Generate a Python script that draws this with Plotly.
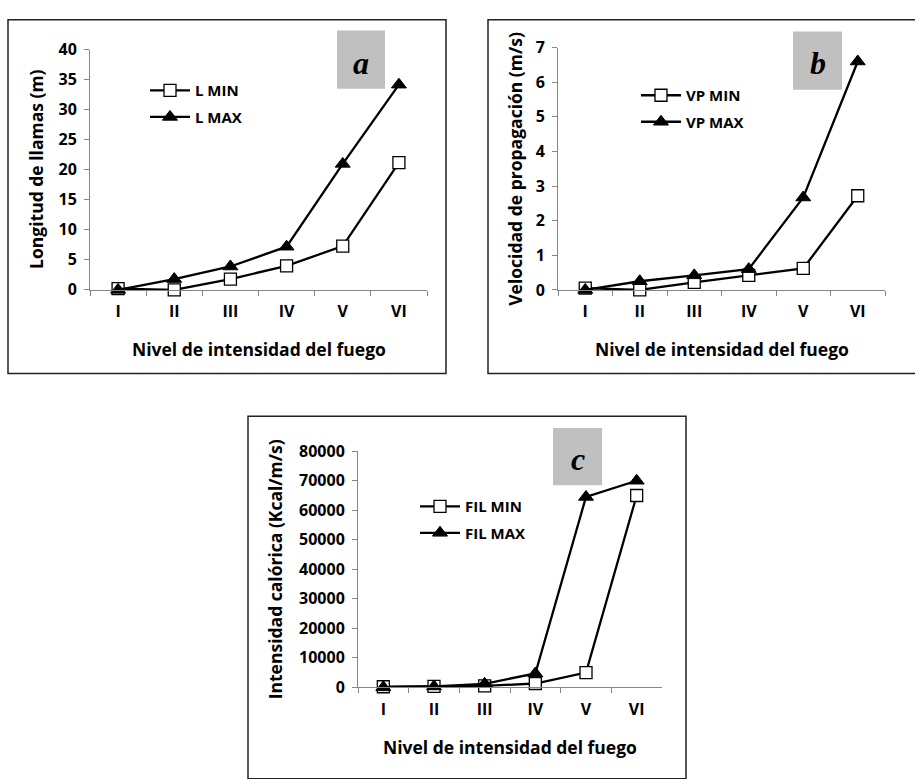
import plotly.graph_objects as go

# Fire intensity levels
niveles = ["I", "II", "III", "IV", "V", "VI"]

# (a) flame length, m
l_min = [0.2, 0.0, 1.8, 4.0, 7.3, 21.2]
l_max = [0.0, 1.8, 3.9, 7.2, 21.0, 34.2]

# (b) spread rate, m/s
vp_min = [0.05, 0.0, 0.22, 0.42, 0.62, 2.72]
vp_max = [0.0, 0.25, 0.42, 0.6, 2.67, 6.6]

# (c) fireline intensity, kcal/m/s
fil_min = [200, 300, 500, 1300, 5000, 65000]
fil_max = [0, 300, 1200, 4700, 64500, 70000]

W, H = 915, 779
FONT = "Open Sans"
WEIGHT = 700
AXIS_GREY = "#868686"
TICK_SIZE = 16
TITLE_SIZE = 17.5
LEGEND_SIZE = 15


def fx(px):
    return px / W


def fy(py):
    return 1 - py / H


panels = [
    dict(ax="", box=(90, 427, 40, 287), yr=[0, 40], dt=5,
         ytitle="Longitud de llamas (m)", ytx=36,
         series=[("L MIN", l_min), ("L MAX", l_max)],
         leg=(145, 65), tag=(337, 385, 20, 80), letter="a",
         frame=(8, 446, 9, 373)),
    dict(ax="2", box=(558, 885, 37.7, 287), yr=[0, 7], dt=1,
         ytitle="Velocidad de propagación (m/s)", ytx=515,
         series=[("VP MIN", vp_min), ("VP MAX", vp_max)],
         leg=(636, 70), tag=(793, 842, 21, 81), letter="b",
         frame=(488, 916, 9, 373)),
    dict(ax="3", box=(358, 662, 453, 696), yr=[0, 80000], dt=10000,
         ytitle="Intensidad calórica (Kcal/m/s)", ytx=275,
         series=[("FIL MIN", fil_min), ("FIL MAX", fil_max)],
         leg=(415, 493), tag=(553, 602, 429, 488), letter="c",
         frame=(248, 686, 417, 790)),
]

fig = go.Figure()
shapes, annotations = [], []
layout = {}

for i, p in enumerate(panels):
    x0, x1, yt, yb = p["box"]
    xa, ya = "xaxis" + p["ax"], "yaxis" + p["ax"]
    legname = "legend" if i == 0 else "legend" + str(i + 1)

    for j, (name, vals) in enumerate(p["series"]):
        if j == 0:
            marker = dict(symbol="square", size=12, color="white",
                          line=dict(color="black", width=1.3))
        else:
            marker = dict(symbol="triangle-up", size=13, color="black",
                          line=dict(color="black", width=1))
        fig.add_trace(go.Scatter(
            x=niveles, y=vals, name=name, mode="lines+markers",
            line=dict(color="black", width=2.3), marker=marker,
            xaxis="x" + p["ax"], yaxis="y" + p["ax"],
            legend=legname, legendgroup=name, cliponaxis=False,
        ))

    tickfont = dict(family=FONT, size=TICK_SIZE, color="black", weight=WEIGHT)
    layout[xa] = dict(
        domain=[fx(x0), fx(x1)], anchor="y" + p["ax"], type="category",
        range=[-0.5, 5.5], tickson="boundaries", ticks="outside",
        ticklen=5, tickcolor=AXIS_GREY, tickwidth=1,
        showline=True, linecolor=AXIS_GREY, linewidth=1,
        showgrid=False, zeroline=False, fixedrange=True,
        tickfont=tickfont, ticklabelstandoff=7,
    )
    layout[ya] = dict(
        domain=[fy(yb), fy(yt)], anchor="x" + p["ax"],
        range=p["yr"], dtick=p["dt"], tick0=0, tickformat="d", ticks="outside",
        ticklen=5, tickcolor=AXIS_GREY, tickwidth=1,
        showline=True, linecolor=AXIS_GREY, linewidth=1,
        showgrid=False, zeroline=False, fixedrange=True,
        tickfont=tickfont, ticklabelstandoff=4,
    )
    layout[legname] = dict(
        x=fx(p["leg"][0]), y=fy(p["leg"][1]), xanchor="left", yanchor="top",
        bgcolor="rgba(0,0,0,0)", borderwidth=0, tracegroupgap=4,
        font=dict(family=FONT, size=LEGEND_SIZE, color="black", weight=WEIGHT),
        itemwidth=40,
    )

    # panel frame
    fx0, fx1, fy0, fy1 = p["frame"]
    shapes.append(dict(type="rect", xref="paper", yref="paper",
                       x0=fx(fx0), x1=fx(fx1), y0=fy(fy1), y1=fy(fy0),
                       line=dict(color="#222222", width=1.5)))
    # grey tag with panel letter
    tx0, tx1, ty0, ty1 = p["tag"]
    shapes.append(dict(type="rect", xref="paper", yref="paper",
                       x0=fx(tx0), x1=fx(tx1), y0=fy(ty1), y1=fy(ty0),
                       fillcolor="#c0c0c0", line=dict(width=0), layer="below"))
    annotations.append(dict(
        text="<b><i>%s</i></b>" % p["letter"], xref="paper", yref="paper",
        x=fx((tx0 + tx1) / 2), y=fy((ty0 + ty1) / 2 + 3),
        showarrow=False, xanchor="center", yanchor="middle",
        font=dict(family="Liberation Serif", size=32, color="black"),
    ))
    # axis titles
    titlefont = dict(family=FONT, size=TITLE_SIZE, color="black", weight=WEIGHT)
    annotations.append(dict(
        text="Nivel de intensidad del fuego", xref="paper", yref="paper",
        x=fx((x0 + x1) / 2), y=fy(yb + 61), showarrow=False,
        xanchor="center", yanchor="middle", font=titlefont,
    ))
    annotations.append(dict(
        text=p["ytitle"], xref="paper", yref="paper", textangle=-90,
        x=fx(p["ytx"]), y=fy((yt + yb) / 2), showarrow=False,
        xanchor="center", yanchor="middle", font=titlefont,
    ))

fig.update_layout(
    width=W, height=H, margin=dict(l=0, r=0, t=0, b=0),
    paper_bgcolor="white", plot_bgcolor="white",
    shapes=shapes, annotations=annotations, showlegend=True,
    **layout,
)

fig.write_html("out.html", config={"displayModeBar": False})
